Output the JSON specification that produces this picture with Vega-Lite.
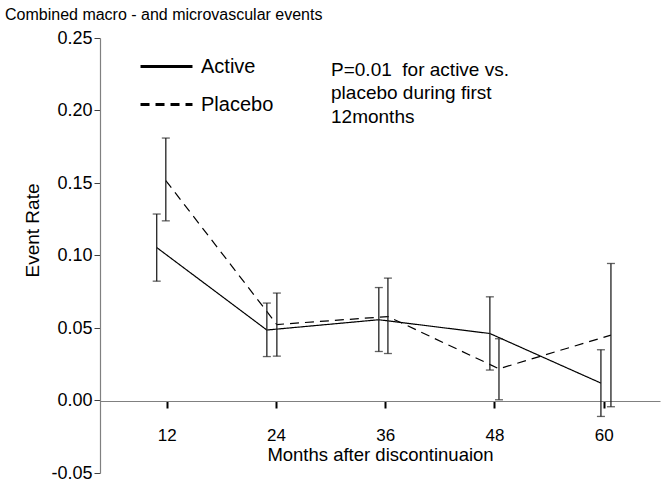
{
  "$schema": "https://vega.github.io/schema/vega-lite/v6.json",
  "width": 560,
  "height": 435,
  "autosize": {"type": "none"},
  "padding": {"left": 100, "top": 38, "right": 3, "bottom": 17},
  "background": "white",
  "config": {"font": "Liberation Sans", "view": {"stroke": null}},
  "title": {
    "text": "Combined macro - and microvascular events",
    "anchor": "start",
    "frame": "group",
    "dx": -95,
    "fontSize": 16,
    "fontWeight": "normal",
    "color": "black",
    "offset": 6
  },
  "datasets": {
    "rates": [
      {"series": "Active", "month": 12, "x": 10.9, "y": 0.1055, "lo": 0.0823, "hi": 0.1286},
      {"series": "Active", "month": 24, "x": 23.0, "y": 0.0486, "lo": 0.0303, "hi": 0.0672},
      {"series": "Active", "month": 36, "x": 35.3, "y": 0.0557, "lo": 0.0338, "hi": 0.0779},
      {"series": "Active", "month": 48, "x": 47.5, "y": 0.0462, "lo": 0.021, "hi": 0.0715},
      {"series": "Active", "month": 60, "x": 59.7, "y": 0.012, "lo": -0.011, "hi": 0.035},
      {"series": "Placebo", "month": 12, "x": 11.9, "y": 0.1517, "lo": 0.1239, "hi": 0.181},
      {"series": "Placebo", "month": 24, "x": 24.1, "y": 0.0524, "lo": 0.0306, "hi": 0.0741},
      {"series": "Placebo", "month": 36, "x": 36.3, "y": 0.0579, "lo": 0.0324, "hi": 0.0844},
      {"series": "Placebo", "month": 48, "x": 48.5, "y": 0.0219, "lo": 0.0005, "hi": 0.0426},
      {"series": "Placebo", "month": 60, "x": 60.8, "y": 0.0451, "lo": -0.0043, "hi": 0.0945}
    ],
    "note": [
      {"x": 30.05, "y": 0.2239, "note": "P=0.01"}
    ]
  },
  "layer": [
    {
      "data": {"name": "rates"},
      "mark": {"type": "line", "color": "black", "strokeWidth": 1.2},
      "encoding": {
        "x": {
          "field": "x",
          "type": "quantitative",
          "scale": {"domain": [4.67, 66.19], "nice": false, "zero": false},
          "axis": {
            "title": "Months after discontinuaion",
            "values": [12, 24, 36, 48, 60],
            "format": "d",
            "offset": -72,
            "grid": false,
            "domainColor": "#808080",
            "domainWidth": 1.2,
            "tickColor": "black",
            "tickWidth": 2,
            "tickSize": 7,
            "labelFontSize": 17,
            "labelColor": "black",
            "labelPadding": 19,
            "labelFlush": false,
            "titleFontSize": 18.5,
            "titleFontWeight": "normal",
            "titleColor": "black",
            "titlePadding": 2
          }
        },
        "y": {
          "field": "y",
          "type": "quantitative",
          "title": "Event Rate",
          "scale": {"domain": [-0.05, 0.25], "nice": false, "zero": false},
          "axis": {
            "title": "Event Rate",
            "values": [-0.05, 0, 0.05, 0.1, 0.15, 0.2, 0.25],
            "format": ".2f",
            "labelExpr": "replace(datum.label, '\u2212', '-')",
            "grid": false,
            "domainColor": "#808080",
            "domainWidth": 1.2,
            "tickColor": "#404040",
            "tickSize": 6,
            "labelFontSize": 18,
            "labelColor": "black",
            "labelPadding": 2,
            "titleFontSize": 19,
            "titleFontWeight": "normal",
            "titleColor": "black",
            "titlePadding": 8,
            "titleY": 192
          }
        },
        "strokeDash": {
          "field": "series",
          "type": "nominal",
          "scale": {"domain": ["Active", "Placebo"], "range": [[1, 0], [9, 6]]},
          "legend": {
            "orient": "none",
            "legendX": 39,
            "legendY": 1,
            "title": null,
            "padding": 0,
            "symbolType": "stroke",
            "symbolSize": 2700,
            "symbolStrokeWidth": 3,
            "symbolStrokeColor": "black",
            "labelFontSize": 20,
            "labelColor": "black",
            "labelOffset": 7,
            "rowPadding": -30
          }
        }
      }
    },
    {
      "data": {"name": "rates"},
      "mark": {"type": "rule", "color": "#222", "strokeWidth": 1.3},
      "encoding": {
        "x": {"field": "x", "type": "quantitative"},
        "y": {"field": "lo", "type": "quantitative", "title": "Event Rate"},
        "y2": {"field": "hi"},
        "detail": {"field": "series"}
      }
    },
    {
      "data": {"name": "rates"},
      "mark": {"type": "tick", "orient": "horizontal", "color": "#222", "size": 8, "thickness": 1.3},
      "encoding": {
        "x": {"field": "x", "type": "quantitative"},
        "y": {"field": "lo", "type": "quantitative", "title": "Event Rate"}
      }
    },
    {
      "data": {"name": "rates"},
      "mark": {"type": "tick", "orient": "horizontal", "color": "#222", "size": 8, "thickness": 1.3},
      "encoding": {
        "x": {"field": "x", "type": "quantitative"},
        "y": {"field": "hi", "type": "quantitative", "title": "Event Rate"}
      }
    },
    {
      "data": {"name": "note"},
      "mark": {
        "type": "text",
        "align": "left",
        "baseline": "alphabetic",
        "fontSize": 19,
        "lineHeight": 23.5,
        "color": "black",
        "text": ["P=0.01\u00a0 for active vs.", "placebo during first", "12months"]
      },
      "encoding": {
        "x": {"field": "x", "type": "quantitative"},
        "y": {"field": "y", "type": "quantitative", "title": "Event Rate"}
      }
    }
  ]
}
